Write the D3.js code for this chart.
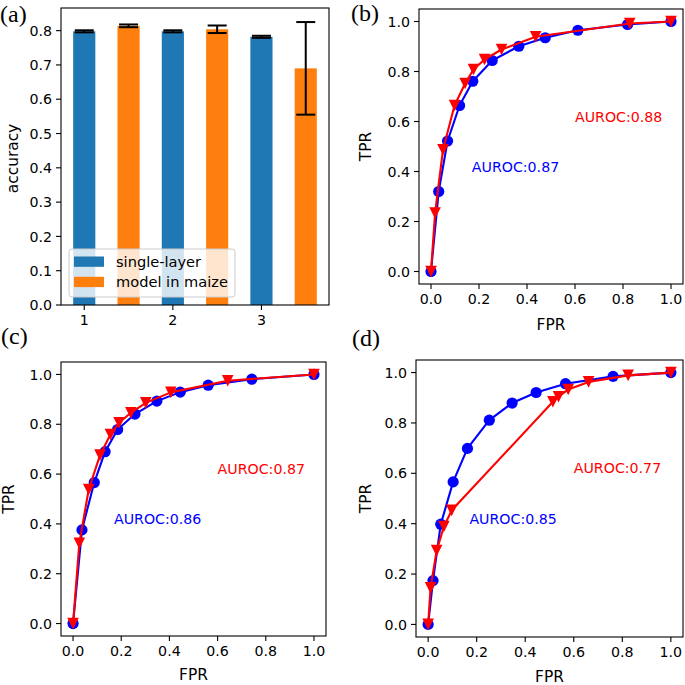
<!DOCTYPE html>
<html><head><meta charset="utf-8">
<script src="https://cdn.jsdelivr.net/npm/d3@7"></script>
<style>body{margin:0;background:#fff}svg{display:block}</style>
</head><body>
<svg id="c" width="685" height="685" font-family="DejaVu Sans, sans-serif"></svg>
<script>
// ---------- data ----------
const barCategories = [1, 2, 3];
const singleLayerAcc = [0.798, 0.798, 0.782];
const singleLayerErr = [0.003, 0.003, 0.003];
const maizeAcc = [0.814, 0.804, 0.690];
const maizeErr = [0.004, 0.011, 0.135];
const accTicks = [0, 0.1, 0.2, 0.3, 0.4, 0.5, 0.6, 0.7, 0.8];
const legendLabels = ["single-layer", "model in maize"];
const rocTicks = [0, 0.2, 0.4, 0.6, 0.8, 1.0];

const bFprBlue = [0, 0.032, 0.069, 0.119, 0.174, 0.255, 0.366, 0.476, 0.612, 0.819, 1.0];
const bTprBlue = [0, 0.320, 0.522, 0.664, 0.761, 0.844, 0.901, 0.935, 0.965, 0.988, 1.0];
const bFprRed  = [0, 0.017, 0.050, 0.098, 0.142, 0.177, 0.223, 0.294, 0.436, 0.828, 1.0];
const bTprRed  = [0, 0.234, 0.487, 0.664, 0.752, 0.808, 0.848, 0.888, 0.939, 0.992, 1.0];

const cFprBlue = [0, 0.037, 0.088, 0.133, 0.185, 0.257, 0.348, 0.445, 0.561, 0.742, 1.0];
const cTprBlue = [0, 0.376, 0.566, 0.690, 0.779, 0.841, 0.893, 0.929, 0.957, 0.981, 1.0];
const cFprRed  = [0, 0.026, 0.065, 0.112, 0.155, 0.191, 0.240, 0.302, 0.406, 0.642, 1.0];
const cTprRed  = [0, 0.322, 0.538, 0.676, 0.759, 0.806, 0.846, 0.886, 0.928, 0.975, 1.0];

const dFprBlue = [0, 0.020, 0.052, 0.103, 0.162, 0.252, 0.346, 0.445, 0.566, 0.762, 1.0];
const dTprBlue = [0, 0.174, 0.398, 0.566, 0.699, 0.811, 0.879, 0.921, 0.956, 0.985, 1.0];
const dFprRed  = [0, 0.010, 0.035, 0.065, 0.097, 0.514, 0.537, 0.577, 0.661, 0.824, 1.0];
const dTprRed  = [0, 0.145, 0.293, 0.389, 0.453, 0.884, 0.904, 0.933, 0.963, 0.989, 1.0];

const aurocB = ["AUROC:0.87", "AUROC:0.88"];
const aurocC = ["AUROC:0.86", "AUROC:0.87"];
const aurocD = ["AUROC:0.85", "AUROC:0.77"];

// ---------- drawing ----------
const svg = d3.select("#c");
const FS = 14.2;
const LFS = 15.4;
const TICK = 5;

function frame(g, L, R, T, B) {
  g.append("rect").attr("x", L).attr("y", T).attr("width", R - L).attr("height", B - T)
    .attr("fill", "none").attr("stroke", "#000").attr("stroke-width", 1.1);
}
function yAxis(g, y, L, ticks, fmt) {
  ticks.forEach(t => {
    const yy = y(t);
    g.append("line").attr("x1", L - TICK).attr("x2", L).attr("y1", yy).attr("y2", yy)
      .attr("stroke", "#000").attr("stroke-width", 1.1);
    g.append("text").attr("x", L - TICK - 4).attr("y", yy).attr("dy", "0.36em")
      .attr("text-anchor", "end").attr("font-size", FS).text(fmt(t));
  });
}
function xAxis(g, x, B, ticks, fmt) {
  ticks.forEach(t => {
    const xx = x(t);
    g.append("line").attr("x1", xx).attr("x2", xx).attr("y1", B).attr("y2", B + TICK)
      .attr("stroke", "#000").attr("stroke-width", 1.1);
    g.append("text").attr("x", xx).attr("y", B + TICK + 4).attr("dy", "0.78em")
      .attr("text-anchor", "middle").attr("font-size", FS).text(fmt(t));
  });
}
function panelLabel(txt, x, y) {
  svg.append("text").attr("x", x).attr("y", y)
    .style("font-family", "'Liberation Serif','DejaVu Serif',serif")
    .style("font-size", "24px").text(txt);
}

// ---- panel (a) ----
(function () {
  const L = 61, R = 329, T = 8, B = 305;
  const g = svg.append("g");
  const x = d3.scaleLinear().domain([0.7375, 3.7625]).range([L, R]);
  const y = d3.scaleLinear().domain([0, 0.866]).range([B, T]);
  const w = 0.25;
  const groups = [
    {vals: singleLayerAcc, errs: singleLayerErr, off: 0, color: "#1f77b4"},
    {vals: maizeAcc, errs: maizeErr, off: 0.5, color: "#ff7f0e"}
  ];
  groups.forEach(s => {
    barCategories.forEach((c, i) => {
      const cx = c + s.off;
      g.append("rect").attr("x", x(cx - w / 2)).attr("width", x(cx + w / 2) - x(cx - w / 2))
        .attr("y", y(s.vals[i])).attr("height", y(0) - y(s.vals[i])).attr("fill", s.color);
    });
  });
  groups.forEach(s => {
    barCategories.forEach((c, i) => {
      const cx = x(c + s.off), hi = y(s.vals[i] + s.errs[i]), lo = y(s.vals[i] - s.errs[i]);
      g.append("line").attr("x1", cx).attr("x2", cx).attr("y1", hi).attr("y2", lo).attr("stroke", "#000").attr("stroke-width", 2);
      [hi, lo].forEach(yy => g.append("line").attr("x1", cx - 9.5).attr("x2", cx + 9.5).attr("y1", yy).attr("y2", yy)
        .attr("stroke", "#000").attr("stroke-width", 2));
    });
  });
  frame(g, L, R, T, B);
  yAxis(g, y, L, accTicks, d3.format(".1f"));
  xAxis(g, x, B, barCategories, d => String(d));
  g.append("text").attr("transform", `translate(18,${(T + B) / 2 + 2}) rotate(-90)`).attr("text-anchor", "middle")
    .attr("font-size", LFS).text("accuracy");
  // legend
  const lg = g.append("g");
  lg.append("rect").attr("x", 69).attr("y", 249).attr("width", 166).attr("height", 48).attr("rx", 3)
    .attr("fill", "#fff").attr("fill-opacity", 0.8).attr("stroke", "#cccccc").attr("stroke-width", 1);
  [["#1f77b4", legendLabels[0]], ["#ff7f0e", legendLabels[1]]].forEach((d, i) => {
    lg.append("rect").attr("x", 74).attr("y", 256.5 + i * 20.3).attr("width", 30).attr("height", 10.3).attr("fill", d[0]);
    lg.append("text").attr("x", 116).attr("y", 261.8 + i * 20.3).attr("dy", "0.36em").attr("font-size", FS + 0.4).text(d[1]);
  });
  panelLabel("(a)", 0, 22);
})();

// ---- ROC panels ----
function rocPanel(L, R, T, B, fb, tb, fr, tr, labels, lbl, lx, ly, ylabX, xlabY) {
  const g = svg.append("g");
  const x = d3.scaleLinear().domain([-0.05, 1.05]).range([L, R]);
  const y = d3.scaleLinear().domain([-0.05, 1.05]).range([B, T]);
  const line = d3.line().x(d => x(d[0])).y(d => y(d[1]));
  const blue = fb.map((f, i) => [f, tb[i]]);
  const red = fr.map((f, i) => [f, tr[i]]);
  g.append("path").attr("d", line(blue)).attr("fill", "none").attr("stroke", "#0000ff").attr("stroke-width", 2.1).attr("stroke-linejoin", "round");
  g.selectAll(null).data(blue).enter().append("circle").attr("cx", d => x(d[0])).attr("cy", d => y(d[1])).attr("r", 5.6).attr("fill", "#0000ff");
  g.append("path").attr("d", line(red)).attr("fill", "none").attr("stroke", "#ff0000").attr("stroke-width", 2.1).attr("stroke-linejoin", "round");
  const r = 5.8;
  g.selectAll(null).data(red).enter().append("path")
    .attr("d", d => { const cx = x(d[0]), cy = y(d[1]); return `M${cx - r},${cy - r}L${cx + r},${cy - r}L${cx},${cy + r}Z`; })
    .attr("fill", "#ff0000");
  frame(g, L, R, T, B);
  yAxis(g, y, L, rocTicks, d3.format(".1f"));
  xAxis(g, x, B, rocTicks, d3.format(".1f"));
  g.append("text").attr("x", x(0.17)).attr("y", y(0.4)).attr("fill", "#0000ff").attr("font-size", FS).text(labels[0]);
  g.append("text").attr("x", x(0.6)).attr("y", y(0.6)).attr("fill", "#ff0000").attr("font-size", FS).text(labels[1]);
  g.append("text").attr("transform", `translate(${ylabX},${(T + B) / 2}) rotate(-90)`).attr("text-anchor", "middle")
    .attr("font-size", LFS).text("TPR");
  g.append("text").attr("x", (L + R) / 2).attr("y", xlabY).attr("text-anchor", "middle").attr("font-size", LFS).text("FPR");
  panelLabel(lbl, lx, ly);
}

rocPanel(419, 683, 9, 284, bFprBlue, bTprBlue, bFprRed, bTprRed, aurocB, "(b)", 351, 21, 371, 330);
rocPanel(61, 326, 362, 636, cFprBlue, cTprBlue, cFprRed, cTprRed, aurocC, "(c)", 1, 344, 14, 680);
rocPanel(416, 683, 360, 637, dFprBlue, dTprBlue, dFprRed, dTprRed, aurocD, "(d)", 352, 346, 371, 682);
</script>
</body></html>
